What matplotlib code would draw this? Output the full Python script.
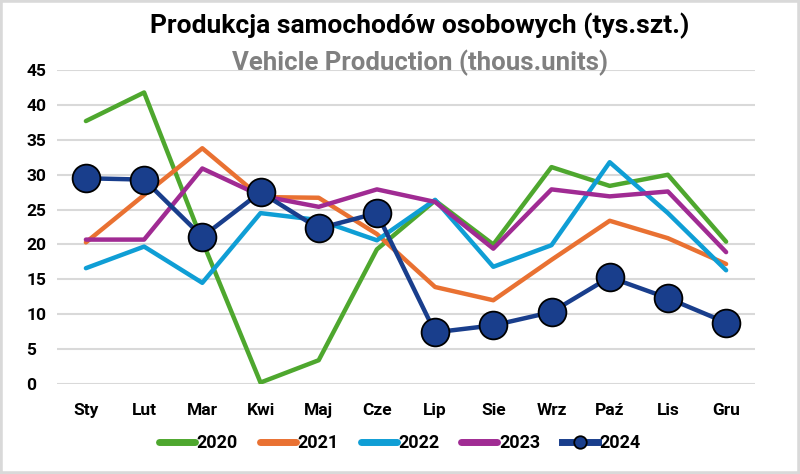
import matplotlib

matplotlib.use("Agg")
import matplotlib.pyplot as plt
from matplotlib.patches import Rectangle

months = ["Sty", "Lut", "Mar", "Kwi", "Maj", "Cze", "Lip", "Sie", "Wrz", "Paź", "Lis", "Gru"]
y2020 = [37.7, 41.8, 20.5, 0.2, 3.4, 19.3, 26.3, 20.0, 31.1, 28.4, 30.0, 20.4]
y2021 = [20.3, 27.1, 33.8, 26.8, 26.7, 21.5, 13.9, 12.0, 17.8, 23.4, 20.9, 17.2]
y2022 = [16.6, 19.7, 14.5, 24.5, 23.5, 20.6, 26.4, 16.8, 19.9, 31.8, 24.5, 16.3]
y2023 = [20.7, 20.7, 30.9, 27.0, 25.4, 27.9, 26.1, 19.4, 27.9, 26.9, 27.6, 18.9]
y2024 = [29.5, 29.3, 21.1, 27.5, 22.3, 24.5, 7.4, 8.4, 10.3, 15.3, 12.3, 8.8]
yticks = [0, 5, 10, 15, 20, 25, 30, 35, 40, 45]

series = [
    ("2020", y2020, "#4EA72E"),
    ("2021", y2021, "#E97132"),
    ("2022", y2022, "#0F9ED5"),
    ("2023", y2023, "#A02B93"),
]

FONT = ["Liberation Sans Narrow", "Roboto", "DejaVu Sans"]
plt.rcParams["font.family"] = FONT

fig = plt.figure(figsize=(8.0, 4.74), dpi=100)
ax = fig.add_axes([0.071, 0.19, 0.873, 0.662])

x = list(range(len(months)))
for name, ys, color in series:
    ax.plot(x, ys, color=color, lw=3.2, label=name, solid_capstyle="round", zorder=3)
ax.plot(x, y2024, color="#193E8C", lw=3.2, marker="o", markersize=20,
        markerfacecolor="#193E8C", markeredgecolor="black", markeredgewidth=1.3,
        label="2024", zorder=4)

ax.set_xlim(-0.5, len(months) - 0.5)
ax.set_ylim(0, 45)
ax.set_yticks(yticks)
ax.set_xticks(x)
ax.set_xticklabels(months)
ax.grid(axis="y", color="#d9d9d9", lw=1.5, zorder=0)
ax.set_axisbelow(True)
for s in ax.spines.values():
    s.set_visible(False)
ax.tick_params(axis="both", length=0, labelsize=12.5)
ax.tick_params(axis="x", pad=14)
ax.tick_params(axis="y", pad=22)
for lbl in ax.get_xticklabels() + ax.get_yticklabels():
    lbl.set_fontweight("bold")
for lbl in ax.get_yticklabels():
    lbl.set_horizontalalignment("left")

fig.text(0.525, 0.945, "Produkcja samochodów osobowych (tys.szt.)", ha="center", va="center",
         fontsize=19, fontweight="bold", color="black")
fig.text(0.525, 0.868, "Vehicle Production (thous.units)", ha="center", va="center",
         fontsize=18.5, fontweight="bold", color="#808080")

leg = fig.legend(loc="center", bbox_to_anchor=(0.5, 0.065), ncol=5, frameon=False,
                 handlelength=2.0, handletextpad=0.1, columnspacing=1.2,
                 prop={"weight": "bold", "size": 13})
for h in leg.legend_handles:
    h.set_linewidth(5)
    h.set_markersize(9)

fig.patches.append(Rectangle((0, 0), 1, 1, transform=fig.transFigure, fill=False,
                             edgecolor="#d9d9d9", lw=4))

fig.savefig("out.png", dpi=100)
